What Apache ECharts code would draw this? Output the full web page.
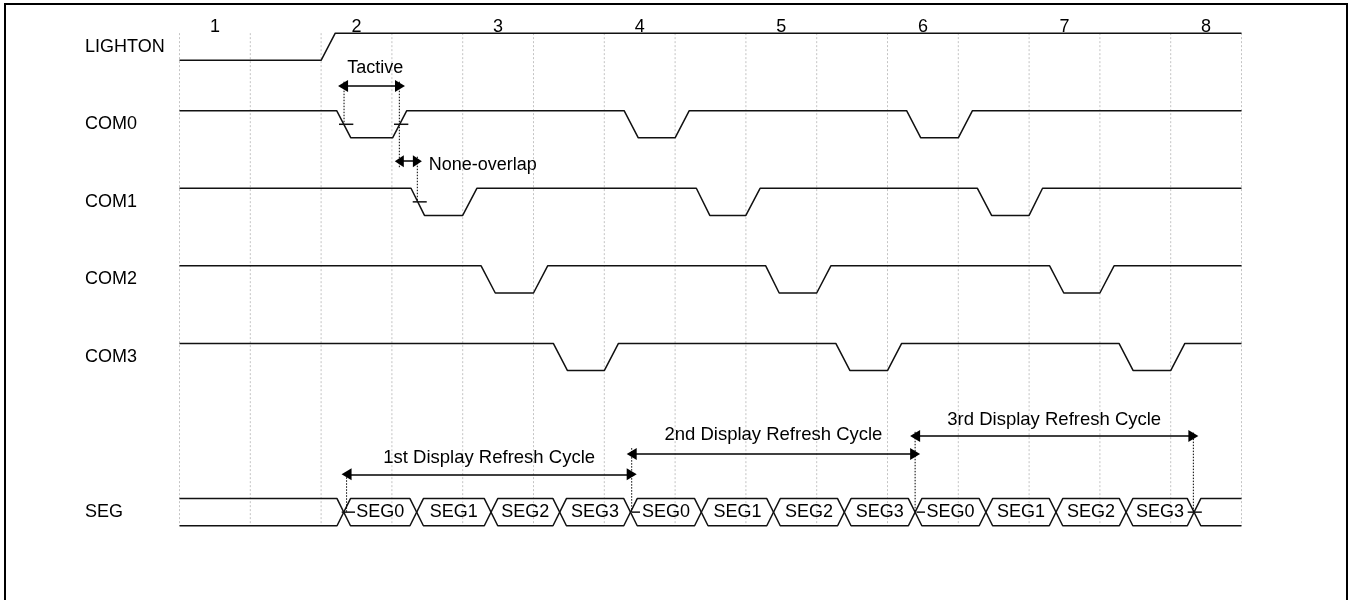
<!DOCTYPE html>
<html><head><meta charset="utf-8">
<script src="https://cdn.jsdelivr.net/npm/echarts@6/dist/echarts.min.js"></script>
<style>html,body{margin:0;padding:0;background:#fff}#c{width:1354px;height:600px}</style>
</head><body><div id="c"></div>
<script>
// ---- data (time in half-periods, level 0/1) ----
const periodLabels = ['1','2','3','4','5','6','7','8'];
const periodPos = [0.5, 2.5, 4.5, 6.5, 8.5, 10.5, 12.5, 14.5];
const gridTicks = [0,1,2,3,4,5,6,7,8,9,10,11,12,13,14,15];
const rowNames = ['LIGHTON','COM0','COM1','COM2','COM3','SEG'];
const rowIndex = [0, 1, 2, 3, 4, 6];

const lightOn = [[0,0],[2.0,0],[2.2,1],[15,1]];
const com0 = [[0,1],[2.22,1],[2.42,0],[3.01,0],[3.21,1],[6.28,1],[6.48,0],[7.0,0],[7.2,1],[10.27,1],[10.47,0],[11.0,0],[11.2,1],[15,1]];
const com1 = [[0,1],[3.27,1],[3.46,0],[4.0,0],[4.2,1],[7.3,1],[7.49,0],[8.0,0],[8.2,1],[11.27,1],[11.47,0],[12.0,0],[12.19,1],[15,1]];
const com2 = [[0,1],[4.26,1],[4.46,0],[5.0,0],[5.2,1],[8.28,1],[8.47,0],[9.0,0],[9.2,1],[12.29,1],[12.49,0],[13.0,0],[13.2,1],[15,1]];
const com3 = [[0,1],[5.28,1],[5.48,0],[6.0,0],[6.2,1],[9.27,1],[9.47,0],[10.0,0],[10.2,1],[13.27,1],[13.47,0],[14.0,0],[14.2,1],[15,1]];

const segCross = [2.32, 3.35, 4.40, 5.37, 6.37, 7.37, 8.39, 9.39, 10.39, 11.39, 12.38, 13.37, 14.33];
const segLabels = ['SEG0','SEG1','SEG2','SEG3','SEG0','SEG1','SEG2','SEG3','SEG0','SEG1','SEG2','SEG3'];

const cycleNames = ['1st Display Refresh Cycle','2nd Display Refresh Cycle','3rd Display Refresh Cycle'];
const cycleStart = [2.36, 6.387, 10.39];
const cycleEnd = [6.387, 10.39, 14.32];
const cycleArrowY = [-5.337, -5.076, -4.844];
const cycleTextY = [-5.127, -4.831, -4.631];

const tactive = {name:'Tactive', from:2.31, to:3.114, y:-0.331, textX:2.764, textY:-0.099};
const noneOverlap = {name:'None-overlap', from:3.105, to:3.36, y:-1.30, textX:3.52, textY:-1.35};

// dotted leader lines [x1,y1,x2,y2]
const leaders = [
  [2.324,-0.276,2.324,-0.812],
  [3.105,-0.276,3.105,-1.392],
  [3.359,-1.243,3.359,-1.823],
  [2.36,-5.337,2.36,-5.825],
  [6.387,-5.0,6.387,-5.825],
  [10.39,-4.79,10.39,-5.825],
  [14.32,-4.80,14.32,-5.825]
];
// short tick marks [x1,y1,x2,y2]
const marks = [
  [2.253,-0.825,2.455,-0.825],
  [3.030,-0.825,3.232,-0.825],
  [3.294,-1.825,3.492,-1.825],
  [2.291,-5.825,2.479,-5.825],
  [6.387,-5.825,6.504,-5.825],
  [10.41,-5.825,10.53,-5.825],
  [14.24,-5.825,14.44,-5.825]
];

// ---- build ----
const SWING = 0.35, SEG_W = 0.095;
const FONT = '"Liberation Sans", Arial, Helvetica, sans-serif';
const FS = 18;
const INK = '#000';
function toXY(sig, row){ return sig.map(p => [p[0], -row + p[1]*SWING]); }
const rowMid = rowIndex.map(r => -r + SWING/2);

function busLine(startHigh){
  const row = 6; const H = -row + SWING, L = -row;
  let st = startHigh; const pts = [[0, st ? H : L]];
  segCross.forEach(c => { pts.push([c - SEG_W, st ? H : L]); st = !st; pts.push([c + SEG_W, st ? H : L]); });
  pts.push([15, st ? H : L]);
  return pts;
}
function segRender(style){
  return function(params, api){
    const p1 = api.coord([api.value(0), api.value(1)]);
    const p2 = api.coord([api.value(2), api.value(3)]);
    return {type:'line', shape:{x1:p1[0],y1:p1[1],x2:p2[0],y2:p2[1]}, style: style};
  };
}
function sigSeries(data){
  return {type:'line', data: data, symbol:'none', showSymbol:false, clip:false, silent:true,
    lineStyle:{color:'#111', width:1.5}, animation:false, z:3};
}

const gridData = gridTicks.map(t => [t, SWING, t, -6]);

const texts = [];
periodLabels.forEach((s,i) => texts.push({value:[periodPos[i], 0.43], name:s}));
segLabels.forEach((s,i) => texts.push({value:[(segCross[i]+segCross[i+1])/2, -6 + SWING/2], name:s}));
cycleNames.forEach((s,i) => texts.push({value:[(cycleStart[i]+cycleEnd[i])/2, cycleTextY[i]], name:s, label:{fontSize:18.5}}));
texts.push({value:[tactive.textX, tactive.textY], name:tactive.name});
texts.push({value:[noneOverlap.textX, noneOverlap.textY], name:noneOverlap.name, label:{align:'left'}});

const arrowLines = [];
cycleNames.forEach((s,i) => arrowLines.push([{coord:[cycleStart[i], cycleArrowY[i]], symbolSize:[12,10]}, {coord:[cycleEnd[i], cycleArrowY[i]], symbolSize:[12,10]}]));
arrowLines.push([{coord:[tactive.from, tactive.y], symbolSize:[12,10]}, {coord:[tactive.to, tactive.y], symbolSize:[12,10]}]);
arrowLines.push([{coord:[noneOverlap.from, noneOverlap.y], symbolSize:[12,9]}, {coord:[noneOverlap.to, noneOverlap.y], symbolSize:[12,9]}]);

const chart = echarts.init(document.getElementById('c'), null, {renderer:'canvas'});
chart.setOption({
  animation:false,
  backgroundColor:'#fff',
  textStyle:{fontFamily:FONT},
  graphic:[{type:'rect', shape:{x:5,y:4,width:1342,height:620}, style:{fill:'none', stroke:'#000', lineWidth:2}, silent:true}],
  grid:{left:179.5, right:112.5, top:21.5, bottom:35.5, containLabel:false},
  xAxis:{type:'value', min:0, max:15, interval:1, axisLine:{show:false}, axisTick:{show:false}, axisLabel:{show:false}, splitLine:{show:false}},
  yAxis:{type:'value', min:-6.5, max:0.5, axisLine:{show:false}, axisTick:{show:false}, splitLine:{show:false},
    axisLabel:{customValues: rowMid, align:'left', margin:94.5, fontSize:FS, color:INK, fontFamily:FONT,
      formatter: function(v){ let best=0, d=1e9; rowMid.forEach((m,i)=>{ if(Math.abs(m-v)<d){d=Math.abs(m-v); best=i;} }); return rowNames[best]; }}},
  series:[
    {type:'custom', data:gridData, encode:{x:[0,2], y:[1,3]}, renderItem:segRender({stroke:'#c4c4c4', lineWidth:1, lineDash:[2,2]}), silent:true, z:1, animation:false},
    sigSeries(toXY(lightOn,0)),
    sigSeries(toXY(com0,1)),
    sigSeries(toXY(com1,2)),
    sigSeries(toXY(com2,3)),
    sigSeries(toXY(com3,4)),
    sigSeries(busLine(true)),
    sigSeries(busLine(false)),
    {type:'custom', data:leaders, encode:{x:[0,2], y:[1,3]}, renderItem:segRender({stroke:'#000', lineWidth:1, lineDash:[1.5,1.5]}), silent:true, z:4, animation:false},
    {type:'custom', data:marks, encode:{x:[0,2], y:[1,3]}, renderItem:segRender({stroke:'#111', lineWidth:1.5}), silent:true, z:4, animation:false},
    {type:'scatter', data:texts, symbolSize:0, silent:true, clip:false, z:5, animation:false,
      itemStyle:{opacity:1, color:'#000'},
      label:{show:true, position:'inside', formatter:'{b}', fontSize:FS, color:INK, opacity:1, fontFamily:FONT, textBorderWidth:0, textBorderColor:'transparent'},
      markLine:{silent:true, animation:false, symbol:['triangle','triangle'], label:{show:false},
        lineStyle:{color:'#000', width:1.5, type:'solid', opacity:1}, itemStyle:{color:'#000', opacity:1}, emphasis:{disabled:true}, data:arrowLines}}
  ]
});
</script></body></html>
